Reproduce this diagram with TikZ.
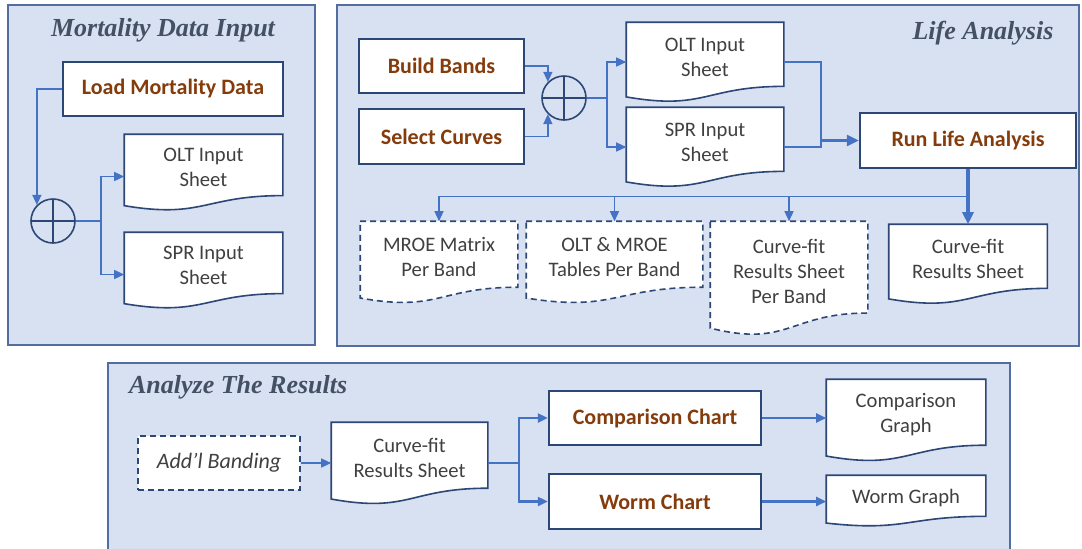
\documentclass[tikz,border=0pt]{standalone}
\usepackage{fontspec}
\setmainfont{Carlito}
\newfontfamily\titlefont{Liberation Serif}
\usetikzlibrary{arrows.meta,positioning,calc}

\definecolor{panelfill}{RGB}{216,225,242}
\definecolor{paneldraw}{RGB}{82,110,160}
\definecolor{boxdraw}{RGB}{44,70,118}
\definecolor{flowblue}{RGB}{68,114,196}
\definecolor{brownlabel}{RGB}{132,60,12}
\definecolor{doctext}{RGB}{64,64,64}
\definecolor{titlegray}{RGB}{68,80,100}

% sheet with a wavy bottom edge
\makeatletter
\pgfdeclareshape{docsheet}{
  \inheritsavedanchors[from=rectangle]
  \inheritanchorborder[from=rectangle]
  \inheritanchor[from=rectangle]{center}
  \inheritanchor[from=rectangle]{north}
  \inheritanchor[from=rectangle]{south}
  \inheritanchor[from=rectangle]{east}
  \inheritanchor[from=rectangle]{west}
  \inheritanchor[from=rectangle]{north east}
  \inheritanchor[from=rectangle]{north west}
  \inheritanchor[from=rectangle]{south east}
  \inheritanchor[from=rectangle]{south west}
  \inheritanchor[from=rectangle]{mid}
  \inheritanchor[from=rectangle]{base}
  \backgroundpath{%
    \southwest \pgf@xa=\pgf@x \pgf@ya=\pgf@y
    \northeast \pgf@xb=\pgf@x \pgf@yb=\pgf@y
    \pgf@xc=.5\pgf@xa \advance\pgf@xc by .5\pgf@xb
    \pgf@yc=\pgf@yb \advance\pgf@yc by -\pgf@ya
    \pgf@x=\pgf@ya \advance\pgf@x by .078\pgf@yc \edef\docR{\the\pgf@x}%
    \pgf@x=\pgf@ya \advance\pgf@x by -.073\pgf@yc \edef\docL{\the\pgf@x}%
    \pgf@x=\pgf@ya \advance\pgf@x by -.272\pgf@yc \edef\docC{\the\pgf@x}%
    \edef\docW{\the\pgf@xa}\edef\docE{\the\pgf@xb}%
    \edef\docM{\the\pgf@xc}\edef\docT{\the\pgf@yb}%
    \pgfpathmoveto{\pgfqpoint{\docW}{\docT}}%
    \pgfpathlineto{\pgfqpoint{\docE}{\docT}}%
    \pgfpathlineto{\pgfqpoint{\docE}{\docR}}%
    \pgfpathcurveto{\pgfqpoint{\docM}{\docR}}{\pgfqpoint{\docM}{\docC}}{\pgfqpoint{\docW}{\docL}}%
    \pgfpathclose
  }
}
\makeatother

\begin{document}
\begin{tikzpicture}[x=0.5pt,y=-0.5pt,
  panel/.style={fill=panelfill,draw=paneldraw,line width=1pt},
  paneltitle/.style={font=\titlefont\bfseries\itshape\fontsize{13}{15}\selectfont,text=titlegray},
  task/.style={draw=boxdraw,line width=1.2pt,fill=white,inner sep=0pt,
    font=\bfseries\fontsize{11}{13}\selectfont,text=brownlabel},
  sheet/.style={shape=docsheet,draw=boxdraw,line width=0.8pt,fill=white,inner sep=0pt,
    align=center,font=\fontsize{10.3}{12.5}\selectfont,text=doctext},
  sumnode/.style={circle,draw=boxdraw,line width=0.8pt,minimum size=22pt,inner sep=0pt,
    path picture={\draw[boxdraw,line width=0.8pt]
      (path picture bounding box.north) -- (path picture bounding box.south)
      (path picture bounding box.west) -- (path picture bounding box.east);}},
  flow/.style={draw=flowblue,line width=0.7pt,-{Triangle[length=5pt,width=4.5pt]}},
  midflow/.style={flow,line width=1.1pt},
  heavy/.style={draw=flowblue,line width=1.3pt,-{Triangle[length=6pt,width=5.5pt]}},
  dashed/.style={dash pattern=on 3pt off 2pt}]
\useasboundingbox (0,0) rectangle (1082,548);

% panels
\draw[panel] (8,5) rectangle (315,345);
\draw[panel] (337,5) rectangle (1079,346);
\draw[panel] (108,363) rectangle (1010,552);
\node[paneltitle] (ttl1) at (163,30) {Mortality Data Input};
\node[paneltitle] (ttl2) at (983,33) {Life Analysis};
\node[paneltitle,anchor=west] (ttl3) at (122,387) {Analyze The Results};

% mortality data input
\node[task,minimum width=110pt,minimum height=27pt] (load) at (173,89) {Load Mortality Data};
\node[sumnode] (sum1) at (53,221) {};
\node[sheet,minimum width=78.5pt,minimum height=32.5pt] (olt1) at (203.5,167.5) {OLT Input\\Sheet};
\node[sheet,minimum width=78.5pt,minimum height=32.5pt] (spr1) at (203.5,265.5) {SPR Input\\Sheet};
\draw[flow] (load.west) -| (sum1.north west);
\draw[flow] (sum1.east) -- ++(25,0) coordinate (fork1) |- ([yshift=-4.5pt]olt1.west);
\draw[flow] (fork1) |- ([yshift=-4.5pt]spr1.west);

% life analysis
\node[task,minimum width=82.5pt,minimum height=27pt] (build) at (441.5,66) {Build Bands};
\node[task,minimum width=82.5pt,minimum height=27.5pt] (select) at (441.5,136.5) {Select Curves};
\node[sumnode] (sum2) at (564,98) {};
\node[sheet,minimum width=78pt,minimum height=34pt] (olt2) at (705,57) {OLT Input\\Sheet};
\node[sheet,minimum width=78pt,minimum height=34pt] (spr2) at (705,142) {SPR Input\\Sheet};
\node[task,minimum width=108pt,minimum height=27.5pt] (run) at (968,140.5) {Run Life Analysis};
\node[sheet,dashed,minimum width=78pt,minimum height=35pt] (mroe) at (439,257) {MROE Matrix\\Per Band};
\node[sheet,dashed,minimum width=87.5pt,minimum height=35pt] (tables) at (614.5,257) {OLT \& MROE\\Tables Per Band};
\node[sheet,dashed,minimum width=78pt,minimum height=49pt] (cfband) at (789,271) {Curve-fit\\Results Sheet\\Per Band};
\node[sheet,minimum width=78.5pt,minimum height=34pt] (cfres) at (968,259) {Curve-fit\\Results Sheet};
\draw[flow] (build.east) -| (sum2.north west);
\draw[flow] (select.east) -| (sum2.south west);
\draw[flow] (sum2.east) -- ++(20,0) coordinate (fork2) |- ([yshift=-2.5pt]olt2.west);
\draw[flow] (fork2) |- ([yshift=-2.5pt]spr2.west);
\coordinate (join) at ([xshift=-19pt]run.west);
\draw[heavy,-] ([yshift=-2.5pt]olt2.east) -| (join);
\draw[heavy,-] ([yshift=-2.5pt]spr2.east) -| (join);
\draw[heavy] (join) -- (run.west);
\draw[heavy,line width=1.8pt] (run.south) -- (cfres.north);
\coordinate (bus) at ([yshift=14pt]cfres.north);
\draw[flow] (bus) -| (mroe.north);
\draw[flow] (bus) -| (tables.north);
\draw[flow] (bus) -| (cfband.north);

% analyze the results
\node[task,dashed,line width=0.9pt,minimum width=81pt,minimum height=27pt,
  font=\itshape\fontsize{11}{13}\selectfont,text=doctext] (addl) at (219,463) {Add’l Banding};
\node[sheet,minimum width=77.5pt,minimum height=35pt] (cfres2) at (409.5,458) {Curve-fit\\Results Sheet};
\node[task,minimum width=106pt,minimum height=27pt] (comp) at (655,418) {Comparison Chart};
\node[task,minimum width=106pt,minimum height=27.5pt] (worm) at (655,501.5) {Worm Chart};
\node[sheet,minimum width=79pt,minimum height=35pt] (cgraph) at (906,415) {Comparison\\Graph};
\node[sheet,minimum width=79pt,minimum height=21.5pt] (wgraph) at (906,497.5) {Worm Graph};
\draw[flow] (addl.east) -- (addl.east -| cfres2.west);
\draw[midflow] ([yshift=-2.5pt]cfres2.east) -- ++(31,0) coordinate (fork3) |- (comp.west);
\draw[midflow] (fork3) |- (worm.west);
\draw[midflow] (comp.east) -- (comp.east -| cgraph.west);
\draw[midflow] (worm.east) -- (worm.east -| wgraph.west);
\end{tikzpicture}
\end{document}
